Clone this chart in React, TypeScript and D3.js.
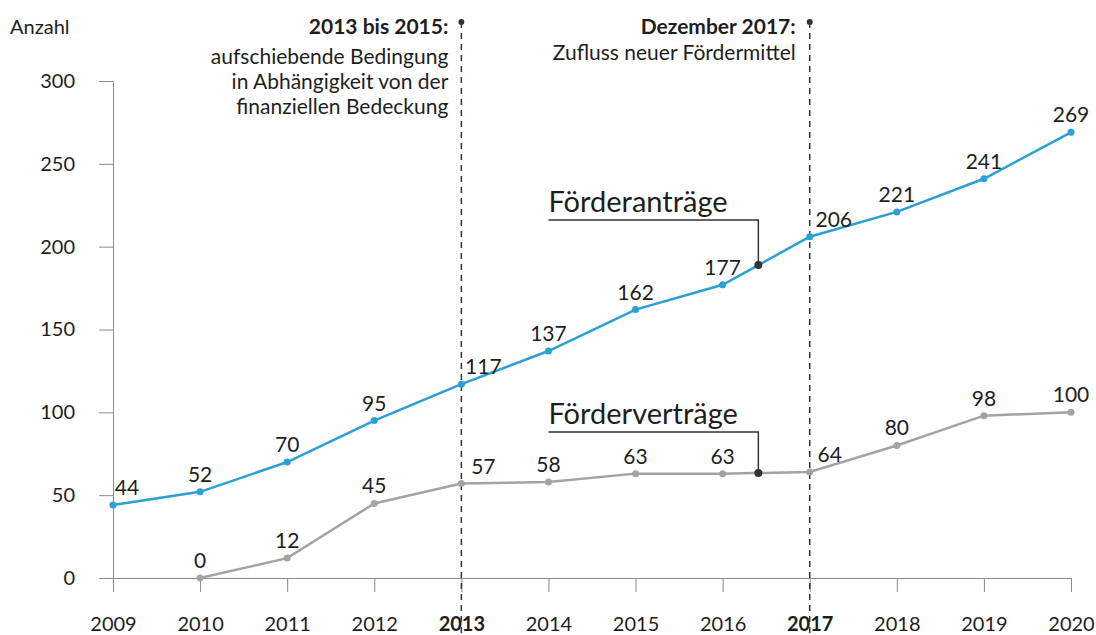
import * as d3 from "d3"
import { useEffect, useRef } from "react"

const years = [2009, 2010, 2011, 2012, 2013, 2014, 2015, 2016, 2017, 2018, 2019, 2020]
const antraege = [44, 52, 70, 95, 117, 137, 162, 177, 206, 221, 241, 269]
const vertraege: (number | null)[] = [null, 0, 12, 45, 57, 58, 63, 63, 64, 80, 98, 100]
const yTicks = [0, 50, 100, 150, 200, 250, 300]
const boldYears = [2013, 2017]
// label offsets: shifted right where the dashed markers would cover the text
const antraegeShift = [14, 0, 0, 0, 22, 0, 0, 0, 24, 0, 0, 0]
const vertraegeShift = [0, 0, 0, 0, 22, 0, 0, 0, 20, 0, 0, 0]

const BLUE = "#2b9fd6"
const GRAY = "#a3a3a3"
const TEXT = "#1e1e1e"
const FONT = "Lato, 'Open Sans', sans-serif"
const NORMAL = "400"

const W = 1096
const H = 635
const margin = { top: 81, right: 25, bottom: 57, left: 113 }

export default function App() {
  const svgRef = useRef<SVGSVGElement | null>(null)

  useEffect(() => {
    if (!svgRef.current) return
    const svg = d3.select(svgRef.current)
    svg.selectAll("*").remove()

    const x = d3.scaleLinear().domain([2009, 2020]).range([margin.left, W - margin.right])
    const y = d3.scaleLinear().domain([0, 300]).range([H - margin.bottom, margin.top])

    const g = svg.append("g").style("font-family", FONT)

    // Y axis
    const yAxis = g
      .append("g")
      .attr("transform", `translate(${margin.left},0)`)
      .call(d3.axisLeft(y).tickValues(yTicks).tickSize(14).tickPadding(24).tickSizeOuter(0))
    yAxis.select(".domain").attr("stroke", "#8c8c8c")
    yAxis.selectAll(".tick line").attr("stroke", "#8c8c8c")
    yAxis
      .selectAll(".tick text")
      .style("font-size", "20px")
      .style("font-weight", NORMAL)
      .style("fill", TEXT)
      .style("font-family", FONT)

    // X axis
    const xAxis = g
      .append("g")
      .attr("transform", `translate(0,${y(0)})`)
      .call(
        d3
          .axisBottom(x)
          .tickValues(years)
          .tickFormat(d3.format("d"))
          .tickSize(14)
          .tickPadding(25)
          .tickSizeOuter(0),
      )
    xAxis.select(".domain").attr("d", `M${margin.left - 14},0.5H${x(2020)}`).attr("stroke", "#8c8c8c")
    xAxis.selectAll(".tick line").attr("stroke", "#8c8c8c")
    xAxis
      .selectAll(".tick text")
      .style("font-size", "20px")
      .style("fill", TEXT)
      .style("font-family", FONT)
      .style("font-weight", (d: any) => (boldYears.includes(d) ? "700" : NORMAL))

    g.append("text")
      .attr("x", 10)
      .attr("y", 34)
      .text("Anzahl")
      .style("font-size", "20px")
      .style("font-weight", NORMAL)
      .style("fill", TEXT)

    // Dashed event markers
    boldYears.forEach((yr) => {
      g.append("line")
        .attr("x1", x(yr))
        .attr("x2", x(yr))
        .attr("y1", 22)
        .attr("y2", H)
        .attr("stroke", "#333")
        .attr("stroke-width", 1.5)
        .attr("stroke-dasharray", "6,5")
      g.append("circle").attr("cx", x(yr)).attr("cy", 22).attr("r", 3).attr("fill", "#333")
    })

    const note = (xr: number, lines: { t: string; y: number; bold?: boolean }[]) => {
      lines.forEach((l) => {
        g.append("text")
          .attr("x", xr)
          .attr("y", l.y)
          .attr("text-anchor", "end")
          .text(l.t)
          .style("font-size", "21px")
          .style("font-weight", l.bold ? "700" : NORMAL)
          .style("fill", TEXT)
      })
    }
    note(x(2013) - 13, [
      { t: "2013 bis 2015:", y: 34, bold: true },
      { t: "aufschiebende Bedingung", y: 64 },
      { t: "in Abhängigkeit von der", y: 89 },
      { t: "finanziellen Bedeckung", y: 114 },
    ])
    note(x(2017) - 14, [
      { t: "Dezember 2017:", y: 34, bold: true },
      { t: "Zufluss neuer Fördermittel", y: 60 },
    ])

    const line = d3
      .line<[number, number | null]>()
      .defined((d) => d[1] !== null)
      .x((d) => x(d[0]))
      .y((d) => y(d[1] as number))

    const drawSeries = (vals: (number | null)[], color: string, shifts: number[]) => {
      const pts = years.map((yr, i) => [yr, vals[i]] as [number, number | null])
      g.append("path")
        .datum(pts)
        .attr("d", line)
        .attr("fill", "none")
        .attr("stroke", color)
        .attr("stroke-width", 2.5)
      const valid = pts.map((p, i) => ({ p, i })).filter((d) => d.p[1] !== null)
      g.selectAll(null)
        .data(valid)
        .enter()
        .append("circle")
        .attr("cx", (d) => x(d.p[0]))
        .attr("cy", (d) => y(d.p[1] as number))
        .attr("r", 3.5)
        .attr("fill", color)
      g.selectAll(null)
        .data(valid)
        .enter()
        .append("text")
        .attr("x", (d) => x(d.p[0]) + shifts[d.i])
        .attr("y", (d) => y(d.p[1] as number) - 10)
        .attr("text-anchor", "middle")
        .text((d) => String(d.p[1]))
        .style("font-size", "21px")
        .style("font-weight", NORMAL)
        .style("fill", TEXT)
    }
    drawSeries(antraege, BLUE, antraegeShift)
    drawSeries(vertraege, GRAY, vertraegeShift)

    // Series labels with leader lines
    const leader = (label: string, value: number, top: number) => {
      const lx = x(2016.41)
      const ly = y(value)
      g.append("path")
        .attr("d", `M${x(2014)},${top}H${lx}V${ly}`)
        .attr("fill", "none")
        .attr("stroke", "#333")
        .attr("stroke-width", 1.5)
      g.append("circle").attr("cx", lx).attr("cy", ly).attr("r", 4).attr("fill", "#333")
      g.append("text")
        .attr("x", x(2014))
        .attr("y", top - 8)
        .text(label)
        .style("font-size", "29px")
        .style("font-weight", NORMAL)
        .style("fill", TEXT)
    }
    leader("Förderanträge", 177 + 0.41 * (206 - 177), 220)
    leader("Förderverträge", 63 + 0.41 * (64 - 63), 432)
  }, [])

  return <svg ref={svgRef} width={W} height={H} style={{ display: "block", position: "absolute", left: 0, top: 0 }} />
}
